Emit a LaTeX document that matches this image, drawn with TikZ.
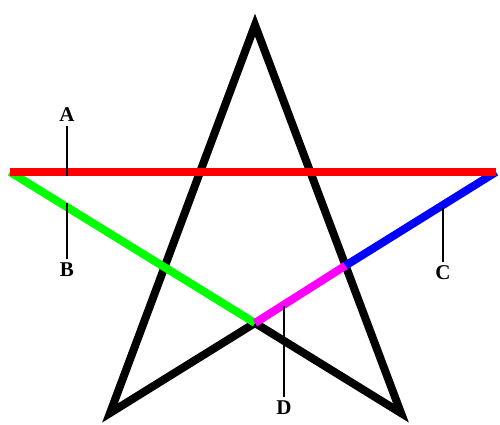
\documentclass[tikz,border=0pt]{standalone}
\usepackage{fontspec}
\setmainfont{Liberation Serif}
\definecolor{cRed}{RGB}{255,0,0}
\definecolor{cGreen}{RGB}{0,255,0}
\definecolor{cBlue}{RGB}{0,0,255}
\definecolor{cMagenta}{RGB}{255,0,255}
\begin{document}
\begin{tikzpicture}[x=1pt,y=-1pt,
  thickline/.style={line width=8pt},
  leader/.style={line width=1.5pt,draw=black},
  lbl/.style={font=\fontsize{21}{21}\selectfont\bfseries,inner sep=4pt}]
\useasboundingbox (0,0) rectangle (500,425);
% vertices
\coordinate (top) at (255,25);
\coordinate (L) at (10,172);
\coordinate (R) at (496,172);
\coordinate (BL) at (110,413);
\coordinate (BR) at (401,413);
\coordinate (I) at (255,323);
\coordinate (J) at (345.5,265.6);
% black star parts
\draw[thickline,line join=miter,miter limit=10] (I) -- (BL) -- (top) -- (BR) -- cycle;
% coloured segments
\draw[thickline,cGreen] (L) -- (I);
\draw[thickline,cMagenta] (I) -- (J);
\draw[thickline,cBlue] (J) -- (R);
\draw[thickline,cRed] (L) -- (R);
% labels
\node[lbl] (A) at (67,115) {A};
\node[lbl] (B) at (67,270) {B};
\node[lbl] (C) at (443,273) {C};
\node[lbl] (D) at (284,408) {D};
\coordinate (Ae) at (67,176);
\coordinate (Be) at (67,203);
\coordinate (Ce) at (443,208);
\coordinate (De) at (284,306);
\draw[leader] (A) -- (Ae);
\draw[leader] (B) -- (Be);
\draw[leader] (C) -- (Ce);
\draw[leader] (D) -- (De);
\end{tikzpicture}
\end{document}
